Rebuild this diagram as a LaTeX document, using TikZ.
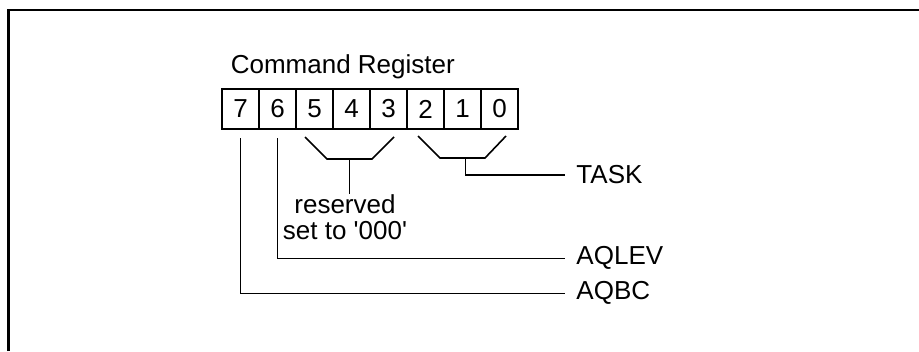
\documentclass[tikz,border=0pt]{standalone}
\usepackage{fontspec}
\setmainfont{Liberation Sans}
\usetikzlibrary{calc}

\tikzset{every picture/.style={line width=1.2pt}}
\tikzset{
  regcell/.style={draw, minimum width=27.75pt, minimum height=30pt, inner sep=0pt, outer sep=0pt},
  fieldlabel/.style={anchor=west, inner xsep=8pt, inner ysep=0pt}
}

\begin{document}
\begin{tikzpicture}[x=0.75pt,y=0.75pt,yscale=-1,xscale=1,font=\fontsize{19.5}{20}\selectfont]
\useasboundingbox (0,0) rectangle (919,351);

%Shape: Frame
\draw [line width=1.7pt]  (8.5,351) -- (8.5,10) -- (919,10) ;

% Text Node
\node [anchor=base west, inner sep=0pt] (title) at (230,73) {Command Register};

%Shape: Register cells
\foreach \b [count=\k from 0] in {7,...,0}
  \node [regcell] (c\b) at ({240.5+37*\k},109) {\b};

% Text Node
\node [fieldlabel] (task) at (565,175) {TASK};
% Text Node
\node [fieldlabel] (aqlev) at (565,258.3) {AQLEV};
% Text Node
\node [fieldlabel] (aqbc) at (565,293.3) {AQBC};
% Text Node
\node [anchor=north, align=center, inner sep=0pt] (rsv) at (345,193.5) {reserved\\set to \textquotesingle000\textquotesingle};

%Straight Lines: bits 5..3
\coordinate (rsvtop) at (349.5,159);
\draw    (305,137) -- (327,159) -- (372,159) -- (394,137) ;
\draw    (rsvtop) -- (rsvtop |- rsv.north) ;
%Straight Lines: bits 2..0
\coordinate (tasktop) at (465.5,158);
\draw    (418,136) -- (440,158) -- (485,158) -- (506,136) ;
\draw    (tasktop) |- (task.west) ;
%Straight Lines: bits 7 and 6
\draw    ($(c6.south)+(0,9)$) |- (aqlev.west) ;
\draw    ($(c7.south)+(0,9)$) |- (aqbc.west) ;
\end{tikzpicture}
\end{document}
